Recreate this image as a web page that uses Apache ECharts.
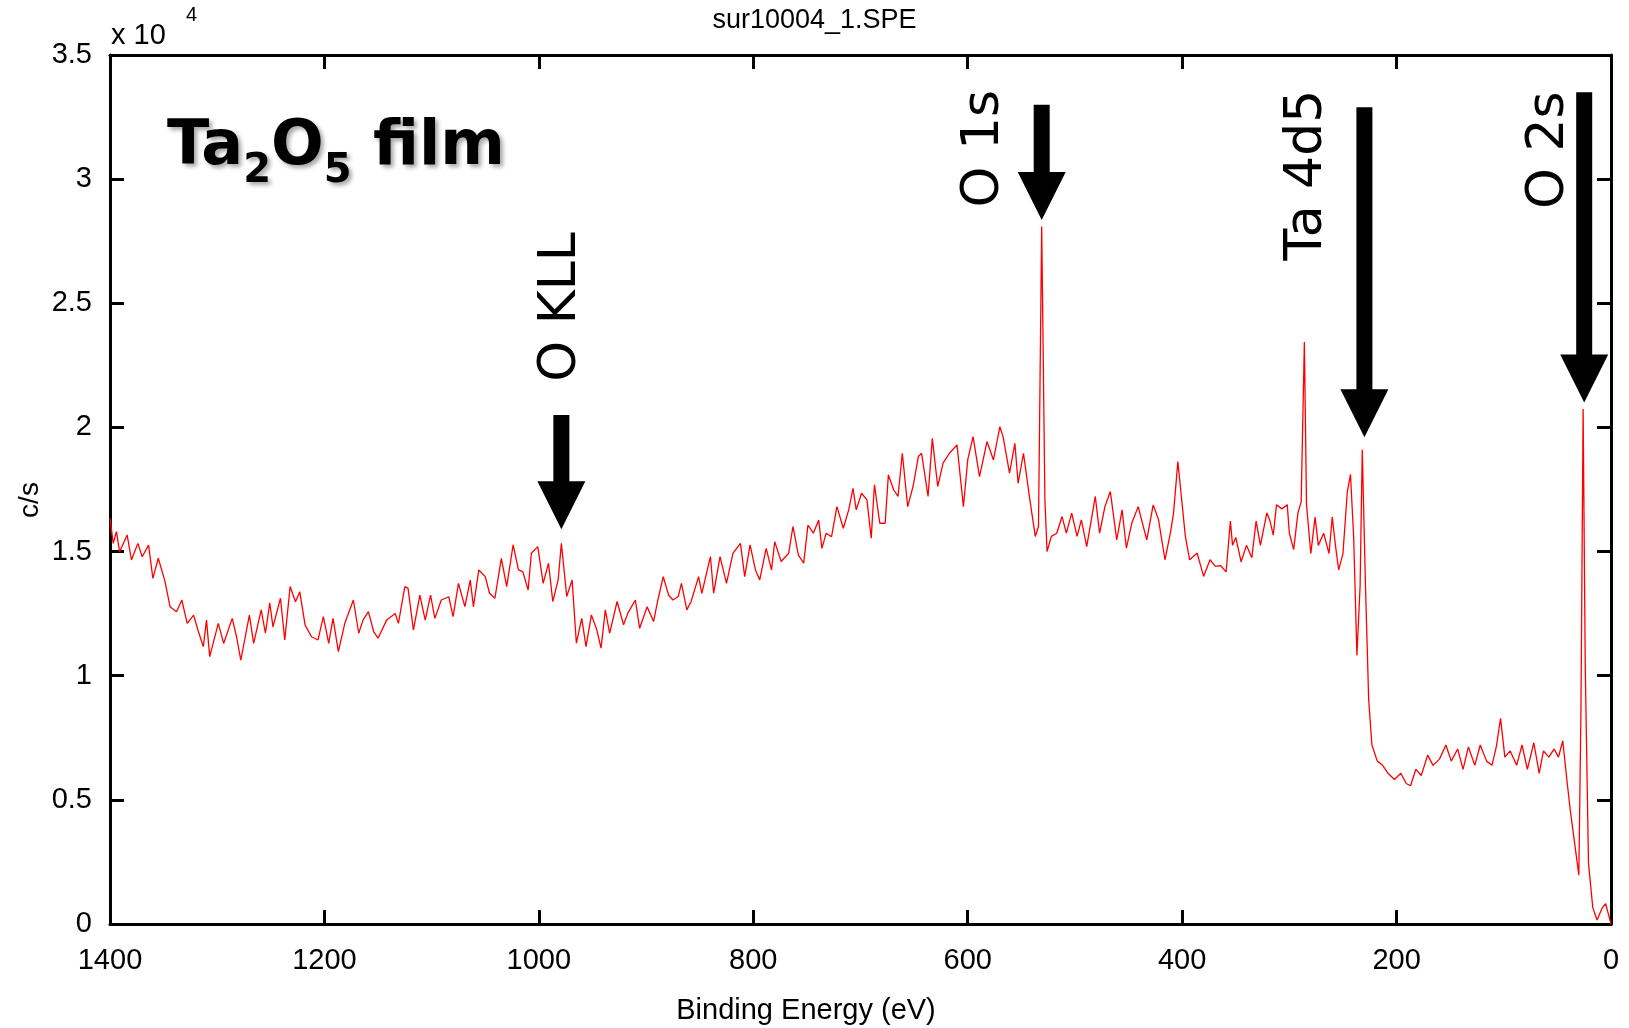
<!DOCTYPE html>
<html>
<head>
<meta charset="utf-8">
<title>sur10004_1.SPE</title>
<script src="https://cdn.jsdelivr.net/npm/echarts@6/dist/echarts.min.js"></script>
<style>
  html, body { margin: 0; padding: 0; background: #fff; }
  #main { width: 1629px; height: 1028px; }
</style>
</head>
<body>
<div id="main"></div>
<script>
// survey spectrum, counts in units of 10^4 c/s
var bindingEnergy = [
  1400, 1397, 1394, 1391, 1384, 1380, 1374, 1370, 1364, 1360, 1355, 1349, 1344, 1338, 1333, 1328,
  1322, 1318, 1313, 1310, 1307, 1299, 1294, 1286, 1282, 1278, 1270, 1266, 1259, 1255, 1251, 1248,
  1241, 1237, 1232, 1227, 1223, 1218, 1212, 1206, 1201, 1196, 1192, 1187, 1181, 1173, 1168, 1164,
  1159, 1154, 1150, 1142, 1134, 1131, 1125, 1122, 1117, 1111, 1106, 1101, 1097, 1091, 1084, 1080,
  1075, 1069, 1064, 1061, 1056, 1050, 1046, 1041, 1035, 1030, 1024, 1019, 1015, 1010, 1007, 1001,
  996, 991, 987, 982, 979, 974, 969, 965, 960, 956, 951, 946, 942, 938, 934, 927,
  921, 917, 910, 906, 899, 893, 889, 884, 879, 875, 870, 867, 862, 858, 851, 848,
  840, 837, 831, 825, 819, 812, 808, 803, 798, 794, 788, 783, 780, 774, 767, 763,
  758, 753, 749, 744, 739, 736, 732, 727, 722, 716, 711, 707, 704, 699, 694, 690,
  687, 682, 677, 674, 669, 665, 661, 656, 651, 646, 643, 637, 633, 628, 623, 617,
  610, 604, 600, 595, 589, 582, 576, 570, 567, 561, 556, 553, 548, 542, 537, 534,
  531, 528, 526, 522, 517, 512, 508, 503, 498, 494, 489, 481, 477, 472, 467, 461,
  456, 452, 447, 441, 433, 427, 422, 416, 411, 408, 404, 397, 393, 386, 380, 374,
  369, 364, 359, 355, 353, 350, 345, 340, 335, 331, 327, 321, 318, 315, 312, 307,
  302, 300, 296, 292, 289, 286, 284, 280, 276, 273, 268, 263, 260, 257, 254, 250,
  246, 243, 240, 237, 234, 232, 229, 226, 223, 218, 213, 208, 202, 196, 191, 187,
  182, 177, 171, 166, 160, 154, 149, 143, 138, 133, 127, 122, 116, 111, 107, 103,
  99, 94, 88, 83, 78, 72, 67, 63, 58, 53, 49, 45, 41, 38, 34, 30,
  28, 26, 24, 21, 17, 13, 8, 5, 0
];
var countsPerSec = [
  1.634, 1.533, 1.580, 1.499, 1.567, 1.466, 1.533, 1.479, 1.526, 1.392, 1.473, 1.385, 1.278, 1.258, 1.305, 1.211,
  1.244, 1.184, 1.117, 1.224, 1.077, 1.211, 1.130, 1.231, 1.157, 1.063, 1.244, 1.130, 1.265, 1.171, 1.294, 1.197,
  1.312, 1.144, 1.359, 1.298, 1.338, 1.204, 1.157, 1.144, 1.238, 1.130, 1.231, 1.097, 1.211, 1.305, 1.171, 1.224,
  1.258, 1.177, 1.151, 1.224, 1.251, 1.211, 1.359, 1.352, 1.184, 1.325, 1.224, 1.325, 1.231, 1.305, 1.318, 1.238,
  1.372, 1.278, 1.385, 1.278, 1.426, 1.399, 1.332, 1.312, 1.473, 1.359, 1.527, 1.426, 1.419, 1.345, 1.493, 1.520,
  1.372, 1.453, 1.299, 1.386, 1.533, 1.319, 1.386, 1.131, 1.231, 1.117, 1.245, 1.185, 1.111, 1.265, 1.171, 1.299,
  1.205, 1.252, 1.305, 1.191, 1.278, 1.218, 1.305, 1.399, 1.325, 1.305, 1.319, 1.372, 1.265, 1.299, 1.399, 1.332,
  1.480, 1.332, 1.480, 1.372, 1.493, 1.533, 1.399, 1.527, 1.426, 1.386, 1.513, 1.426, 1.540, 1.460, 1.493, 1.601,
  1.487, 1.453, 1.607, 1.574, 1.627, 1.513, 1.574, 1.560, 1.681, 1.594, 1.668, 1.755, 1.668, 1.735, 1.708, 1.554,
  1.769, 1.614, 1.614, 1.809, 1.748, 1.722, 1.896, 1.681, 1.762, 1.883, 1.896, 1.722, 1.956, 1.762, 1.856, 1.896,
  1.930, 1.681, 1.869, 1.963, 1.802, 1.943, 1.869, 2.003, 1.963, 1.816, 1.936, 1.775, 1.896, 1.708, 1.561, 1.601,
  2.809, 1.708, 1.500, 1.561, 1.574, 1.641, 1.574, 1.655, 1.561, 1.628, 1.520, 1.722, 1.574, 1.681, 1.742, 1.547,
  1.668, 1.514, 1.614, 1.681, 1.547, 1.688, 1.628, 1.467, 1.574, 1.655, 1.863, 1.561, 1.467, 1.494, 1.400, 1.467,
  1.440, 1.443, 1.418, 1.623, 1.525, 1.557, 1.459, 1.525, 1.475, 1.623, 1.525, 1.656, 1.623, 1.566, 1.689, 1.672,
  1.689, 1.574, 1.508, 1.656, 1.700, 2.344, 1.689, 1.492, 1.639, 1.525, 1.574, 1.492, 1.639, 1.525, 1.426, 1.492,
  1.738, 1.811, 1.557, 1.082, 1.361, 1.910, 1.361, 0.902, 0.721, 0.656, 0.639, 0.607, 0.582, 0.607, 0.566, 0.557,
  0.623, 0.598, 0.680, 0.639, 0.664, 0.721, 0.656, 0.705, 0.623, 0.713, 0.639, 0.721, 0.656, 0.639, 0.713, 0.828,
  0.672, 0.697, 0.639, 0.721, 0.623, 0.730, 0.607, 0.697, 0.672, 0.705, 0.672, 0.738, 0.574, 0.459, 0.328, 0.197,
  0.869, 2.074, 1.033, 0.246, 0.066, 0.016, 0.066, 0.082, 0.000
];

// peak annotations: arrow from arrowTop down to arrowTip (same units as countsPerSec)
var peakNames = ['O KLL', 'O 1s', 'Ta 4d5', 'O 2s'];
var peakEnergy = [979, 531, 230, 25];
var arrowTop = [2.05, 3.30, 3.29, 3.35];
var arrowTip = [1.59, 2.835, 1.96, 2.10];

// where each rotated label sits relative to its arrow top (px)
var labelDx = [0, -57, -57, -35];
var labelDy = [-108, 44, 68, 58];

var axisFont = 'Liberation Sans Narrow, Arial Narrow, Liberation Sans, sans-serif';

var chartDom = document.getElementById('main');
var myChart = echarts.init(chartDom);
var option;

var spectrum = bindingEnergy.map(function (e, i) { return [e, countsPerSec[i]]; });

function boxAxis(pos, isX) {
  var a = {
    type: 'value',
    position: pos,
    axisLine: { show: true, onZero: false, lineStyle: { color: '#000', width: 3 } },
    axisTick: { show: true, inside: true, length: 14, lineStyle: { color: '#000', width: 3 } },
    axisLabel: { show: false },
    splitLine: { show: false }
  };
  if (isX) {
    a.min = 0; a.max = 1400; a.interval = 200; a.inverse = true;
  } else {
    a.min = 0; a.max = 3.5; a.interval = 0.5;
  }
  return a;
}

var xBottom = boxAxis('bottom', true);
xBottom.axisLabel = {
  show: true, color: '#000', fontFamily: axisFont, fontSize: 29, margin: 22,
  formatter: function (v) { return String(v); }
};
var yLeft = boxAxis('left', false);
yLeft.axisLabel = { show: true, color: '#000', fontFamily: axisFont, fontSize: 29, margin: 18 };

option = {
  animation: false,
  backgroundColor: '#fff',
  title: {
    text: 'sur10004_1.SPE',
    left: 'center',
    top: 2,
    textStyle: { color: '#000', fontFamily: axisFont, fontSize: 27, fontWeight: 'normal' }
  },
  grid: { left: 110, right: 18, top: 55, bottom: 104, containLabel: false },
  xAxis: [xBottom, boxAxis('top', true)],
  yAxis: [yLeft, boxAxis('right', false)],
  series: [
    {
      type: 'line',
      xAxisIndex: 0,
      yAxisIndex: 0,
      data: spectrum,
      showSymbol: false,
      symbol: 'none',
      lineStyle: { color: '#ff0000', width: 1.3 }
    }
  ]
};

option && myChart.setOption(option);

// annotations placed from data coordinates
var graphics = [
  {
    type: 'text', x: 111, y: 36,
    style: { text: 'x 10', fontFamily: axisFont, fontSize: 29, fill: '#000', verticalAlign: 'middle' }
  },
  {
    type: 'text', x: 186, y: 15,
    style: { text: '4', fontFamily: axisFont, fontSize: 20, fill: '#000', verticalAlign: 'middle' }
  },
  {
    type: 'text', x: 806, y: 1011,
    style: { text: 'Binding Energy (eV)', fontFamily: axisFont, fontSize: 29, fill: '#000', align: 'center', verticalAlign: 'middle' }
  },
  {
    type: 'text', x: 30, y: 500, rotation: Math.PI / 2,
    style: { text: 'c/s', fontFamily: axisFont, fontSize: 28, fill: '#000', align: 'center', verticalAlign: 'middle' }
  },
  {
    type: 'text', x: 167, y: 117,
    style: {
      text: '{m|Ta}{s|2}{m|O}{s|5}{m| film}',
      verticalAlign: 'top',
      rich: {
        m: {
          fontFamily: 'DejaVu Sans', fontWeight: 'bold', fontSize: 62, fill: '#000', color: '#000',
          verticalAlign: 'bottom', padding: [0, 0, 13, 0],
          textShadowColor: 'rgba(0,0,0,0.35)', textShadowBlur: 4, textShadowOffsetX: 3, textShadowOffsetY: 3
        },
        s: {
          fontFamily: 'DejaVu Sans', fontWeight: 'bold', fontSize: 40, fill: '#000', color: '#000',
          verticalAlign: 'bottom',
          textShadowColor: 'rgba(0,0,0,0.35)', textShadowBlur: 4, textShadowOffsetX: 3, textShadowOffsetY: 3
        }
      }
    }
  }
];

peakNames.forEach(function (name, i) {
  var top = myChart.convertToPixel({ xAxisIndex: 0, yAxisIndex: 0 }, [peakEnergy[i], arrowTop[i]]);
  var tip = myChart.convertToPixel({ xAxisIndex: 0, yAxisIndex: 0 }, [peakEnergy[i], arrowTip[i]]);
  var x = top[0];
  var headStart = tip[1] - 48;
  graphics.push({
    type: 'polygon',
    shape: {
      points: [
        [x - 8, top[1]], [x + 8, top[1]], [x + 8, headStart], [x + 24, headStart],
        [x, tip[1]], [x - 24, headStart], [x - 8, headStart]
      ]
    },
    style: { fill: '#000' }
  });
  graphics.push({
    type: 'text',
    x: x + labelDx[i],
    y: top[1] + labelDy[i],
    rotation: Math.PI / 2,
    style: { text: name, fontFamily: 'DejaVu Sans', fontSize: 52, fill: '#000', align: 'center', verticalAlign: 'middle' }
  });
});

myChart.setOption({ graphic: graphics });
</script>
</body>
</html>
